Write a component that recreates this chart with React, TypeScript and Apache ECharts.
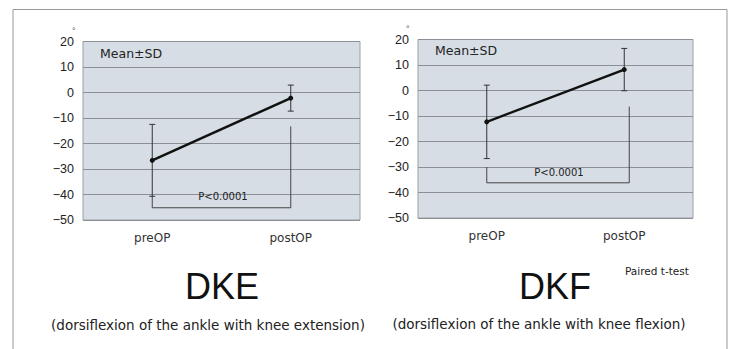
import React, { useEffect, useRef } from "react";
import * as echarts from "echarts";

const categories = ["preOP", "postOP"];
const yTicks = [20, 10, 0, -10, -20, -30, -40, -50];
const dkeMean = [-26.6, -2.2];
const dkeSD = [14.1, 5.1];
const dkfMean = [-12.3, 8.2];
const dkfSD = [14.4, 8.3];
// bracket: [preStartY, postStartY, bracketY]
const dkeBracket = [-40.7, -13.3, -45.2];
const dkfBracket = [-30, -6.3, -36.2];
const pLabel = "P<0.0001";

const FONT = "Liberation Sans, Arial, sans-serif";
const WFONT = "DejaVu Sans, sans-serif";

function errorSeries(idx: number, mean: number[], sd: number[]) {
  return {
    type: "custom",
    xAxisIndex: idx,
    yAxisIndex: idx,
    z: 3,
    data: mean.map((m, i) => [i, m - sd[i], m + sd[i]]),
    renderItem: (params: any, api: any) => {
      const lo = api.coord([api.value(0), api.value(1)]);
      const hi = api.coord([api.value(0), api.value(2)]);
      const w = 3;
      const st = { stroke: "#333", lineWidth: 1 };
      return {
        type: "group",
        children: [
          { type: "line", shape: { x1: lo[0], y1: lo[1], x2: hi[0], y2: hi[1] }, style: st },
          { type: "line", shape: { x1: lo[0] - w, y1: lo[1], x2: lo[0] + w, y2: lo[1] }, style: st },
          { type: "line", shape: { x1: hi[0] - w, y1: hi[1], x2: hi[0] + w, y2: hi[1] }, style: st },
        ],
      };
    },
  };
}

function bracketSeries(idx: number, b: number[], postOffset: number) {
  return {
    type: "custom",
    xAxisIndex: idx,
    yAxisIndex: idx,
    z: 2,
    data: [[0, b[0], b[1], b[2]]],
    renderItem: (params: any, api: any) => {
      const p1 = api.coord([0, api.value(1)]);
      const p2 = api.coord([1, api.value(2)]);
      const yb = api.coord([0, api.value(3)])[1];
      const x2 = p2[0] + postOffset;
      return {
        type: "polyline",
        shape: { points: [[p1[0], p1[1]], [p1[0], yb], [x2, yb], [x2, p2[1]]] },
        style: { stroke: "#444", lineWidth: 1, fill: "none" },
      };
    },
  };
}

export default function App() {
  const ref = useRef<HTMLDivElement>(null);
  useEffect(() => {
    const chart = echarts.init(ref.current!, null, { renderer: "svg" });
    const grids = [
      { left: 83, top: 41.5, width: 277, height: 178.5 },
      { left: 418, top: 39.5, width: 275, height: 178.5 },
    ];
    const option: any = {
      animation: false,
      backgroundColor: "#ffffff",
      grid: grids.map((g) => ({
        ...g,
        show: true,
        backgroundColor: "#d6dde4",
        borderColor: "#9aa0a6",
        borderWidth: 1,
      })),
      xAxis: [0, 1].map((i) => ({
        type: "category",
        gridIndex: i,
        data: categories,
        boundaryGap: true,
        axisLine: { show: false },
        axisTick: { show: false },
        axisLabel: { color: "#333", fontSize: 12, fontFamily: WFONT, margin: 12 },
        splitLine: { show: false },
      })),
      yAxis: [0, 1].map((i) => ({
        type: "value",
        gridIndex: i,
        min: -50,
        max: 20,
        interval: 10,
        axisLine: { show: false },
        axisTick: { show: false },
        axisLabel: {
          color: "#222",
          fontSize: 12.5,
          fontFamily: FONT,
          margin: 9,
          formatter: (v: number) => (yTicks.includes(v) ? String(v).replace("-", "\u2212") : ""),
        },
        splitLine: { show: true, lineStyle: { color: "#8a9096", width: 1 } },
      })),
      series: [
        {
          type: "line",
          xAxisIndex: 0,
          yAxisIndex: 0,
          data: dkeMean,
          symbol: "circle",
          symbolSize: 5,
          z: 4,
          lineStyle: { color: "#111", width: 2.5 },
          itemStyle: { color: "#111" },
        },
        {
          type: "line",
          xAxisIndex: 1,
          yAxisIndex: 1,
          data: dkfMean,
          symbol: "circle",
          symbolSize: 5,
          z: 4,
          lineStyle: { color: "#111", width: 2.5 },
          itemStyle: { color: "#111" },
        },
        errorSeries(0, dkeMean, dkeSD),
        errorSeries(1, dkfMean, dkfSD),
        bracketSeries(0, dkeBracket, 0),
        bracketSeries(1, dkfBracket, 5),
      ],
      graphic: [
        {
          type: "rect",
          shape: { x: 13, y: 9.5, width: 714, height: 350 },
          style: { fill: "none", stroke: "#999", lineWidth: 1 },
          z: 0,
        },
        { type: "text", x: 72, y: 26, style: { text: "°", fontSize: 9, fill: "#555", fontFamily: FONT } },
        { type: "text", x: 406, y: 24, style: { text: "°", fontSize: 9, fill: "#555", fontFamily: FONT } },
        { type: "text", x: 100, y: 53, z: 10, style: { text: "Mean\u00b1SD", fontSize: 12.5, fill: "#222", fontFamily: WFONT, verticalAlign: "middle" } },
        { type: "text", x: 435, y: 50, z: 10, style: { text: "Mean\u00b1SD", fontSize: 12.5, fill: "#222", fontFamily: WFONT, verticalAlign: "middle" } },
        { type: "text", x: 223, y: 196, z: 10, style: { text: pLabel, fontSize: 10, fill: "#222", fontFamily: WFONT, align: "center", verticalAlign: "middle" } },
        { type: "text", x: 559, y: 172, z: 10, style: { text: pLabel, fontSize: 10, fill: "#222", fontFamily: WFONT, align: "center", verticalAlign: "middle" } },
        { type: "text", x: 222, y: 286, style: { text: "DKE", fontSize: 36, fill: "#111", fontFamily: FONT, align: "center", verticalAlign: "middle" } },
        { type: "text", x: 555, y: 286, style: { text: "DKF", fontSize: 36, fill: "#111", fontFamily: FONT, align: "center", verticalAlign: "middle" } },
        { type: "text", x: 208, y: 325, style: { text: "(dorsiflexion of the ankle with knee extension)", fontSize: 13.5, fill: "#222", fontFamily: WFONT, align: "center", verticalAlign: "middle" } },
        { type: "text", x: 539, y: 324, style: { text: "(dorsiflexion of the ankle with knee flexion)", fontSize: 13.5, fill: "#222", fontFamily: WFONT, align: "center", verticalAlign: "middle" } },
        { type: "text", x: 625, y: 271, style: { text: "Paired t-test", fontSize: 10.5, fill: "#222", fontFamily: WFONT, verticalAlign: "middle" } },
      ],
    };
    chart.setOption(option);
    return () => chart.dispose();
  }, []);
  return (
    <div
      ref={ref}
      style={{ position: "fixed", left: 0, top: 0, width: 735, height: 349 }}
    />
  );
}
